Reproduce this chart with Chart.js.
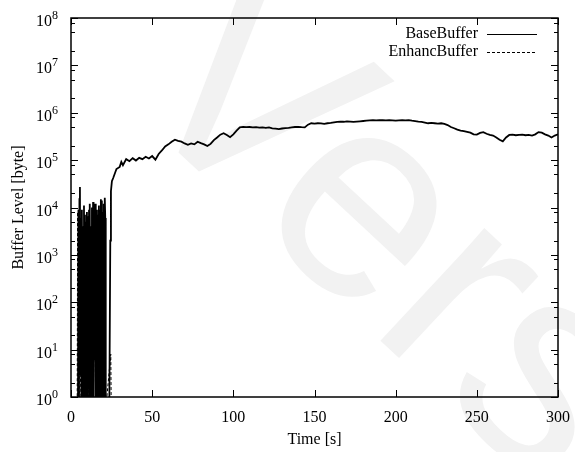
<!DOCTYPE html>
<html lang="en">
<head>
<meta charset="UTF-8">
<title>Buffer Level</title>
<script src="https://cdn.jsdelivr.net/npm/chart.js"></script>
<style>
  html, body { margin: 0; padding: 0; background: #fff; }
</style>
</head>
<body>
<canvas id="chart" width="575" height="452"></canvas>
<script>
const xTicks = [0, 50, 100, 150, 200, 250, 300];
const yExponents = [0, 1, 2, 3, 4, 5, 6, 7, 8];
const yMinorSteps = [2, 5, 8];
const seriesLabels = ['BaseBuffer', 'EnhancBuffer'];

// start-up phase, buffer keeps draining to empty
const baseTimeStart = [4.3, 4.6, 4.9, 5.2, 5.5, 5.8, 6.1, 6.4, 6.7, 7.0, 7.3, 7.6, 8.0, 8.3, 8.6, 8.9, 9.2, 9.5, 9.8, 10.1,
  10.4, 10.8, 11.1, 11.4, 11.7, 12.0, 12.3, 12.6, 12.9, 13.2, 13.6, 13.9, 14.2, 14.5, 14.8, 15.1, 15.4, 15.7, 16.0, 16.3,
  16.6, 16.9, 17.2, 17.5, 17.8, 18.1, 18.4, 18.7, 19.0, 19.3, 19.6, 19.9, 20.2, 20.5, 20.8, 21.1, 21.4, 23.6, 24.2, 24.6, 25.2];
const baseBytesStart = [0.5, 9000, 1, 15000, 27000, 3, 6000, 1, 9000, 5, 4000, 1, 11000, 0.5, 7000, 6, 5000, 1, 8000, 0.5,
  6500, 5, 9000, 1, 12000, 0.5, 4000, 5, 10000, 0.5, 13000, 1, 7000, 6, 12000, 0.5, 5000, 1, 9000, 6,
  7000, 0.5, 11000, 1, 9000, 5, 15000, 0.5, 14000, 6, 8000, 0.5, 12000, 1, 16000, 6000, 0.5, 0.5, 2000, 22000, 36000];

const baseTime = [26, 28, 30, 31, 32, 34, 36, 38, 40, 42, 44, 46, 48, 50, 52, 54, 56, 58, 60,
  62, 64, 66, 68, 70, 72, 74, 76, 78, 80, 82, 84, 86, 88, 90, 92, 94, 96, 98, 100,
  102, 104, 106, 108, 110, 112, 114, 116, 118, 120, 122, 124, 126, 128, 130, 132, 134, 136, 138, 140,
  142, 144, 146, 148, 150, 152, 154, 156, 158, 160, 162, 164, 166, 168, 170, 172, 174, 176, 178, 180,
  182, 184, 186, 188, 190, 192, 194, 196, 198, 200, 202, 204, 206, 208, 210, 212, 214, 216, 218, 220,
  222, 224, 226, 228, 230, 232, 234, 236, 238, 240, 242, 244, 246, 248, 250, 252, 254, 256, 258, 260,
  262, 264, 266, 268, 270, 272, 274, 276, 278, 280, 282, 284, 286, 288, 290, 292, 294, 296, 298, 300];
const baseBytes = [42000, 65000, 72000, 92000, 78000, 105000, 95000, 110000, 98000, 112000, 105000, 118000, 108000, 122000, 102000, 135000, 160000, 195000, 215000,
  245000, 270000, 255000, 245000, 225000, 210000, 225000, 215000, 245000, 228000, 215000, 198000, 220000, 265000, 300000, 345000, 370000, 340000, 305000, 350000,
  420000, 490000, 505000, 495000, 500000, 490000, 495000, 485000, 490000, 480000, 490000, 470000, 460000, 450000, 465000, 475000, 480000, 490000, 500000, 505000,
  495000, 490000, 560000, 600000, 590000, 600000, 595000, 580000, 600000, 610000, 625000, 640000, 650000, 645000, 660000, 650000, 640000, 650000, 660000, 670000,
  680000, 690000, 700000, 690000, 700000, 695000, 690000, 700000, 690000, 680000, 690000, 700000, 690000, 700000, 680000, 665000, 650000, 640000, 620000, 600000,
  610000, 600000, 590000, 600000, 580000, 550000, 500000, 470000, 440000, 420000, 410000, 395000, 380000, 350000, 345000, 375000, 390000, 360000, 340000, 330000,
  300000, 270000, 250000, 300000, 340000, 345000, 335000, 340000, 345000, 335000, 340000, 330000, 350000, 390000, 380000, 350000, 330000, 300000, 330000, 350000];

const enhancTime = [3.8, 4.1, 4.4, 5.0, 5.3, 6.2, 6.5, 7.5, 7.8, 9.0, 9.3, 10.5, 10.8, 12.0, 12.3, 13.4, 13.7,
  15.0, 15.3, 16.5, 16.8, 18.0, 18.3, 19.5, 19.8, 21.0, 21.3, 24.5, 24.8];
const enhancBytes = [0.5, 8000, 0.5, 6, 0.5, 6, 0.5, 6, 0.5, 5000, 0.5, 6, 0.5, 6, 0.5, 6, 0.5,
  7000, 0.5, 6, 0.5, 6, 0.5, 6, 0.5, 8, 0.5, 8, 0.5];

const FONT = '"Liberation Serif", "Times New Roman", serif';

function toPoints(ts, vs) {
  return ts.map((t, i) => ({ x: t, y: vs[i] }));
}

const decorations = {
  id: 'decorations',
  beforeDraw(chart) {
    const ctx = chart.ctx;
    ctx.save();
    ctx.fillStyle = '#fff';
    ctx.fillRect(0, 0, chart.width, chart.height);
    // faint watermark behind the plot
    ctx.translate(118, 96);
    ctx.rotate(43 * Math.PI / 180);
    ctx.font = '290px "Liberation Sans", Arial, sans-serif';
    ctx.fillStyle = '#f2f2f2';
    ctx.textBaseline = 'alphabetic';
    ctx.fillText('Vers', 0, 0);
    ctx.restore();
  },
  afterDraw(chart) {
    const ctx = chart.ctx;
    const a = chart.chartArea;
    const xs = chart.scales.x, ys = chart.scales.y;
    ctx.save();
    ctx.strokeStyle = '#000';
    ctx.fillStyle = '#000';

    // ticks, mirrored on all four sides
    ctx.lineWidth = 1;
    ctx.beginPath();
    xTicks.forEach(v => {
      const px = Math.round(xs.getPixelForValue(v)) + 0.5;
      ctx.moveTo(px, a.bottom); ctx.lineTo(px, a.bottom - 7);
      ctx.moveTo(px, a.top); ctx.lineTo(px, a.top + 7);
    });
    yExponents.forEach(e => {
      const py = Math.round(ys.getPixelForValue(Math.pow(10, e))) + 0.5;
      ctx.moveTo(a.left, py); ctx.lineTo(a.left + 7, py);
      ctx.moveTo(a.right, py); ctx.lineTo(a.right - 7, py);
      if (e < 8) {
        yMinorSteps.forEach(m => {
          const pm = Math.round(ys.getPixelForValue(m * Math.pow(10, e))) + 0.5;
          ctx.moveTo(a.left, pm); ctx.lineTo(a.left + 4, pm);
          ctx.moveTo(a.right, pm); ctx.lineTo(a.right - 4, pm);
        });
      }
    });
    ctx.stroke();

    // frame
    ctx.lineWidth = 1.5;
    ctx.strokeRect(a.left, a.top, a.right - a.left, a.bottom - a.top);

    // y tick labels 10^n
    ctx.textBaseline = 'alphabetic';
    yExponents.forEach(e => {
      const py = ys.getPixelForValue(Math.pow(10, e));
      ctx.font = '16px ' + FONT;
      ctx.textAlign = 'right';
      ctx.fillText('10', 52, py + 8);
      ctx.font = '12px ' + FONT;
      ctx.textAlign = 'left';
      ctx.fillText(String(e), 52, py + 1);
    });

    // axis titles
    ctx.font = '16px ' + FONT;
    ctx.textAlign = 'center';
    ctx.textBaseline = 'middle';
    ctx.fillText('Time [s]', (a.left + a.right) / 2, 440);
    ctx.save();
    ctx.translate(19, (a.top + a.bottom) / 2);
    ctx.rotate(-Math.PI / 2);
    ctx.fillText('Buffer Level [byte]', 0, 0);
    ctx.restore();

    // key, top right
    ctx.textAlign = 'right';
    chart.data.datasets.forEach((ds, i) => {
      const ky = 34 + i * 18;
      ctx.fillText(ds.label, 478, ky);
      ctx.beginPath();
      ctx.lineWidth = 1;
      ctx.setLineDash(ds.borderDash || []);
      ctx.moveTo(487, ky + 0.5); ctx.lineTo(537, ky + 0.5);
      ctx.stroke();
      ctx.setLineDash([]);
    });
    ctx.restore();
  }
};

new Chart(document.getElementById('chart'), {
  type: 'line',
  data: {
    datasets: [
      {
        label: seriesLabels[0],
        data: toPoints(baseTimeStart.concat(baseTime), baseBytesStart.concat(baseBytes)),
        borderColor: '#000',
        borderWidth: 1.8,
        pointRadius: 0,
        tension: 0
      },
      {
        label: seriesLabels[1],
        data: toPoints(enhancTime, enhancBytes),
        borderColor: '#000',
        borderWidth: 1,
        borderDash: [3, 2],
        pointRadius: 0,
        tension: 0
      }
    ]
  },
  options: {
    responsive: false,
    animation: false,
    layout: { padding: { left: 0, right: 17, top: 18, bottom: 0 } },
    plugins: { legend: { display: false }, tooltip: { enabled: false } },
    scales: {
      x: {
        type: 'linear',
        min: 0,
        max: 300,
        grid: { display: false, drawTicks: false },
        border: { display: false },
        afterBuildTicks: s => { s.ticks = xTicks.map(v => ({ value: v })); },
        ticks: { font: { family: FONT, size: 16 }, color: '#000', padding: 11, maxRotation: 0, autoSkip: false },
        afterFit: s => { s.height = 55; s.paddingLeft = 0; s.paddingRight = 0; }
      },
      y: {
        type: 'logarithmic',
        min: 1,
        max: 1e8,
        grid: { display: false, drawTicks: false },
        border: { display: false },
        ticks: { display: false },
        afterFit: s => { s.width = 71; s.paddingTop = 0; s.paddingBottom = 0; }
      }
    }
  },
  plugins: [decorations]
});
</script>
</body>
</html>
